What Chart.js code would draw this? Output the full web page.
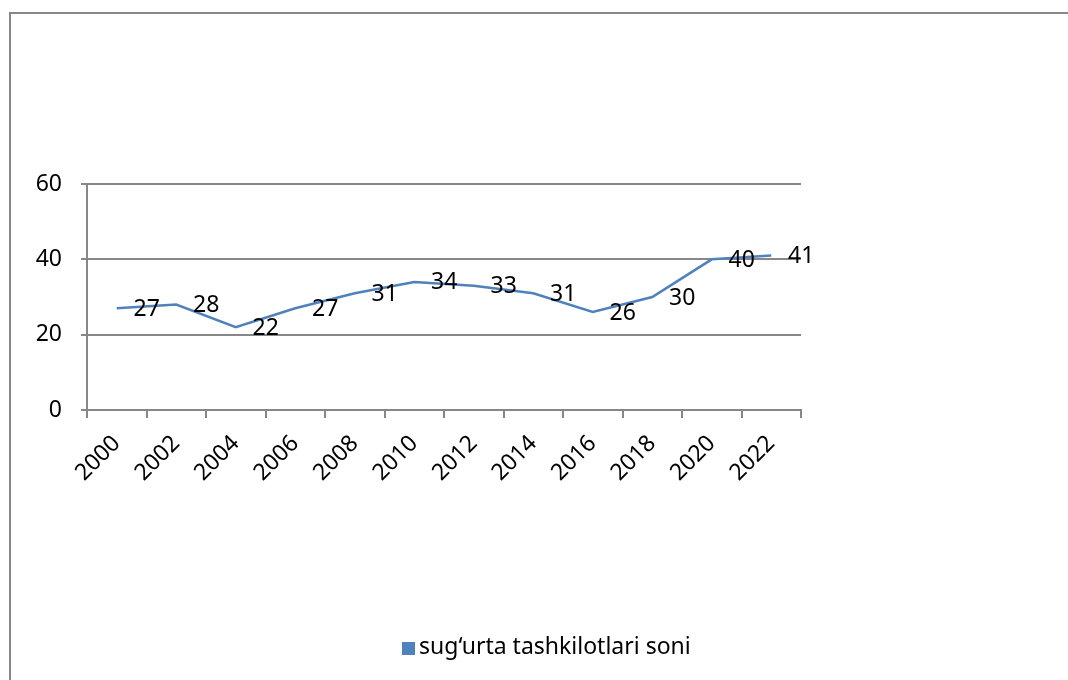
<!DOCTYPE html>
<html>
<head>
<meta charset="utf-8">
<script src="https://cdn.jsdelivr.net/npm/chart.js@4"></script>
<style>
  html, body { margin: 0; padding: 0; background: #fff; }
  #wrap { width: 1068px; height: 680px; }
</style>
</head>
<body>
<div id="wrap"><canvas id="chart" width="1068" height="680"></canvas></div>
<script>
var years = ['2000', '2002', '2004', '2006', '2008', '2010', '2012', '2014', '2016', '2018', '2020', '2022'];
var counts = [27, 28, 22, 27, 31, 34, 33, 31, 26, 30, 40, 41];
var seriesName = 'sug\u2018urta tashkilotlari soni';
var yTicks = [0, 20, 40, 60];

var FONT = '"Noto Sans", "Open Sans", sans-serif';
var FS = 23;

// white page with the grey outer frame
var framePlugin = {
  id: 'frame',
  beforeDraw: function (chart) {
    var c = chart.ctx;
    c.save();
    c.fillStyle = '#fff';
    c.fillRect(0, 0, chart.width, chart.height);
    c.strokeStyle = '#878787';
    c.lineWidth = 2;
    c.strokeRect(10, 13, chart.width + 20, chart.height + 20);
    c.restore();
  }
};

// value labels to the right of each point
var valueLabels = {
  id: 'valueLabels',
  afterDatasetsDraw: function (chart) {
    var c = chart.ctx;
    var meta = chart.getDatasetMeta(0);
    var data = chart.data.datasets[0].data;
    c.save();
    c.font = FS + 'px ' + FONT;
    c.fillStyle = '#000';
    c.textAlign = 'center';
    c.textBaseline = 'middle';
    meta.data.forEach(function (pt, i) {
      c.fillText(String(data[i]), pt.x + 30, pt.y + 1);
    });
    c.restore();
  }
};

// legend box under the plot
var bottomLegend = {
  id: 'bottomLegend',
  afterDraw: function (chart) {
    var c = chart.ctx;
    var ds = chart.data.datasets[0];
    c.save();
    c.fillStyle = ds.borderColor;
    c.fillRect(402, 642, 13, 13);
    c.font = FS + 'px ' + FONT;
    c.fillStyle = '#000';
    c.textAlign = 'left';
    c.textBaseline = 'middle';
    c.fillText(ds.label, 419, 647);
    c.restore();
  }
};

var ctx = document.getElementById('chart').getContext('2d');
var chart = new Chart(ctx, {
  type: 'line',
  data: {
    labels: years,
    datasets: [{
      label: seriesName,
      data: counts,
      borderColor: '#4F81BD',
      backgroundColor: '#4F81BD',
      borderWidth: 2.5,
      pointRadius: 0,
      tension: 0
    }]
  },
  options: {
    responsive: false,
    animation: false,
    layout: { padding: { left: 0, right: 267, top: 184, bottom: 0 } },
    plugins: {
      legend: { display: false },
      tooltip: { enabled: false }
    },
    scales: {
      x: {
        offset: true,
        afterFit: function (s) { s.height = 270; },
        grid: {
          offset: true,
          drawOnChartArea: false,
          drawTicks: true,
          tickLength: 8,
          color: '#878787',
          lineWidth: 2
        },
        border: { color: '#878787', width: 2 },
        ticks: {
          minRotation: 45,
          maxRotation: 45,
          padding: 12,
          color: '#000',
          font: { family: FONT, size: FS }
        }
      },
      y: {
        min: 0,
        max: 60,
        afterFit: function (s) { s.width = 87; },
        afterBuildTicks: function (s) {
          s.ticks = yTicks.map(function (v) { return { value: v }; });
        },
        grid: {
          color: '#878787',
          lineWidth: 2,
          drawTicks: true,
          tickLength: 6
        },
        border: { color: '#878787', width: 2 },
        ticks: {
          padding: 19,
          color: '#000',
          font: { family: FONT, size: FS }
        }
      }
    }
  },
  plugins: [framePlugin, valueLabels, bottomLegend]
});
</script>
</body>
</html>
